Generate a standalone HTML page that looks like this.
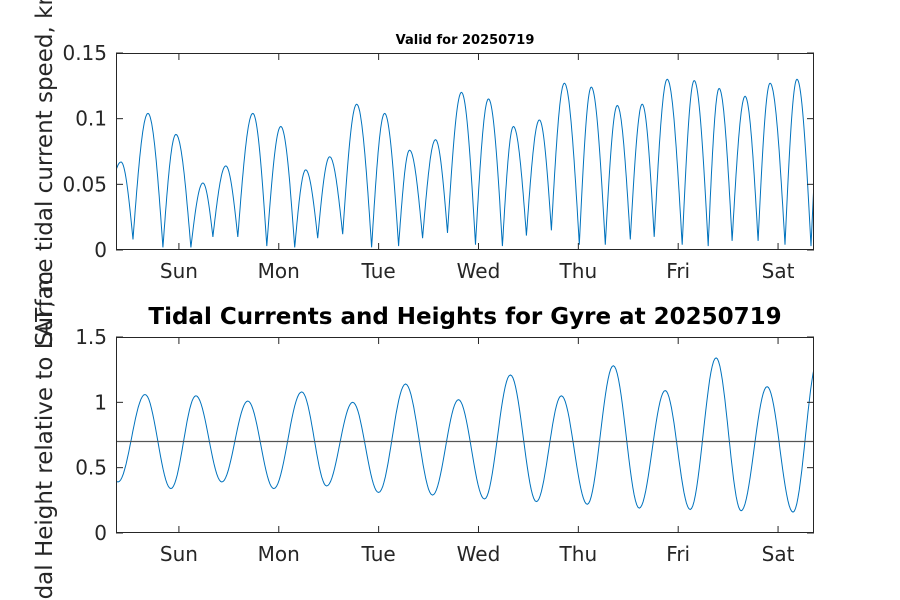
<!DOCTYPE html>
<html><head><meta charset="utf-8"><style>
html,body{margin:0;padding:0;background:#fff;}
svg{display:block;font-family:"DejaVu Sans","Liberation Sans",sans-serif;}
</style></head><body>
<svg id="chart" width="900" height="600" viewBox="0 0 900 600"></svg>
<script>
// Tick labels
const dayLabels = ["Sun","Mon","Tue","Wed","Thu","Fri","Sat"];
const dayTicks = [0,1,2,3,4,5,6];
const speedTicks = [0,0.05,0.1,0.15];
const speedTickLabels = ["0","0.05","0.1","0.15"];
const heightTicks = [0,0.5,1,1.5];
const heightTickLabels = ["0","0.5","1","1.5"];
// Tidal height extrema (days from Sun tick, metres)
const heightTimes = [-0.88,-0.61,-0.34,-0.08,0.17,0.43,0.69,0.95,1.23,1.48,1.74,2.00,2.27,2.54,2.80,3.06,3.32,3.58,3.83,4.09,4.35,4.61,4.87,5.12,5.38,5.63,5.89,6.15,6.40];
const heightValues = [1.0,0.39,1.06,0.34,1.05,0.39,1.01,0.34,1.08,0.36,1.00,0.31,1.14,0.29,1.02,0.26,1.21,0.24,1.05,0.22,1.28,0.19,1.09,0.18,1.34,0.17,1.12,0.16,1.33];
const lineLevel = 0.7;
// Current speed extrema (days, knots); alternating min/max
const speedTimes = [-0.75,-0.58,-0.46,-0.31,-0.16,-0.03,0.12,0.24,0.34,0.47,0.59,0.74,0.88,1.02,1.16,1.27,1.39,1.51,1.64,1.78,1.93,2.06,2.20,2.31,2.44,2.57,2.69,2.83,2.97,3.10,3.24,3.35,3.48,3.61,3.73,3.86,4.01,4.13,4.27,4.39,4.52,4.64,4.76,4.89,5.04,5.16,5.30,5.41,5.54,5.67,5.80,5.92,6.07,6.19,6.33,6.45];
const speedValues = [0.005,0.067,0.008,0.104,0.002,0.088,0.002,0.051,0.010,0.064,0.010,0.104,0.003,0.094,0.002,0.061,0.009,0.071,0.012,0.111,0.002,0.104,0.003,0.076,0.009,0.084,0.013,0.120,0.004,0.115,0.003,0.094,0.011,0.099,0.015,0.127,0.004,0.124,0.004,0.110,0.008,0.111,0.010,0.130,0.004,0.129,0.003,0.123,0.007,0.117,0.007,0.127,0.004,0.130,0.003,0.13];

const NS="http://www.w3.org/2000/svg";
const svg=document.getElementById('chart');
function el(tag,attrs,parent){const e=document.createElementNS(NS,tag);for(const k in attrs)e.setAttribute(k,attrs[k]);(parent||svg).appendChild(e);return e;}
const X0=116,X1=814,xmin=-0.63,xmax=6.36;
const xs=d=>X0+(d-xmin)/(xmax-xmin)*(X1-X0);

function panel(name,top,bot,ymax,ticks,tlabels){
  const ys=v=>bot-v/ymax*(bot-top);
  const g=el('g',{});
  
  
  el('rect',{x:X0,y:top,width:X1-X0,height:bot-top,fill:'#fff',stroke:'none'},g);
  return {g,ys,top,bot,ymax,ticks,tlabels};
}
function frame(p){
  const g=p.g;
  const ax=el('g',{},g);
  
  
  dayTicks.forEach((d,i)=>{
    const x=xs(d);
    el('line',{x1:x,x2:x,y1:p.bot,y2:p.bot-7,stroke:'#262626','stroke-width':1},ax);
    el('line',{x1:x,x2:x,y1:p.top,y2:p.top+7,stroke:'#262626','stroke-width':1},ax);
    const t=el('text',{x:x,y:p.bot+28,'text-anchor':'middle','font-size':20,fill:'#262626'},ax);
    t.textContent=dayLabels[i];
    
    
  });
  const ay=el('g',{},g);
  
  
  p.ticks.forEach((v,i)=>{
    const y=p.ys(v);
    el('line',{x1:X0,x2:X0+7,y1:y,y2:y,stroke:'#262626','stroke-width':1},ay);
    el('line',{x1:X1,x2:X1-7,y1:y,y2:y,stroke:'#262626','stroke-width':1},ay);
    const t=el('text',{x:X0-9,y:y+7,'text-anchor':'end','font-size':20,fill:'#262626'},ay);
    t.textContent=p.tlabels[i];
    
    
  });
  el('rect',{x:X0+0.5,y:p.top+0.5,width:X1-X0-1,height:p.bot-p.top-1,fill:'none',stroke:'#262626','stroke-width':1},g);
}
function curve(p,times,vals,cusp,name){
  let d='';
  for(let i=0;i<times.length-1;i++){
    const t0=times[i],t1=times[i+1],v0=vals[i],v1=vals[i+1];
    for(let k=0;k<=20;k++){
      const f=k/20,t=t0+(t1-t0)*f;
      if(t<xmin-0.01||t>xmax+0.01)continue;
      let s;
      if(cusp){ s = v0<v1 ? Math.sin(f*Math.PI/2) : 1-Math.cos(f*Math.PI/2); }
      else s=(1-Math.cos(f*Math.PI))/2;
      const v=v0+(v1-v0)*s;
      d+=(d?'L':'M')+xs(t).toFixed(1)+','+p.ys(v).toFixed(1);
    }
  }
  const cp='clip-'+name;
  const c=el('clipPath',{id:cp},p.g);
  el('rect',{x:X0,y:p.top,width:X1-X0,height:p.bot-p.top},c);
  const path=el('path',{d:d,fill:'none',stroke:'#0072bd','stroke-width':1,'clip-path':'url(#'+cp+')'},p.g);
  
  
}
// top panel
const p1=panel('speed-plot',53,250,0.15,speedTicks,speedTickLabels);
curve(p1,speedTimes,speedValues,true,'speed-line');
frame(p1);
// bottom panel
const p2=panel('height-plot',337,533,1.5,heightTicks,heightTickLabels);
curve(p2,heightTimes,heightValues,false,'height-line');
const hl=el('line',{x1:X0,x2:X1,y1:p2.ys(lineLevel),y2:p2.ys(lineLevel),stroke:'#555','stroke-width':1.3},p2.g);


frame(p2);
// titles & labels
let t=el('text',{x:465,y:44,'text-anchor':'middle','font-size':13,'font-weight':'bold',fill:'#000'});
t.textContent='Valid for 20250719';

t=el('text',{x:465,y:324,'text-anchor':'middle','font-size':23,'font-weight':'bold',fill:'#000'});
t.textContent='Tidal Currents and Heights for Gyre at 20250719';

t=el('text',{x:0,y:0,'text-anchor':'middle','font-size':23,fill:'#262626',transform:'translate(52,151) rotate(-90)'});
t.textContent='Surface tidal current speed, knots';

t=el('text',{x:0,y:0,'text-anchor':'middle','font-size':23,fill:'#262626',transform:'translate(52,445) rotate(-90)'});
t.textContent='Tidal Height relative to LAT, m';

</script>
</body></html>
